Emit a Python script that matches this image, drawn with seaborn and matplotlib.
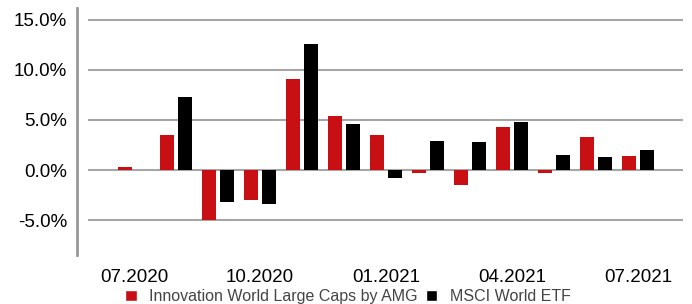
import numpy as np
import pandas as pd
import seaborn as sns
import matplotlib.pyplot as plt
from matplotlib.ticker import FuncFormatter, MultipleLocator
from matplotlib.patches import Patch

# ==================== 数据 ====================
months = ["07.2020", "08.2020", "09.2020", "10.2020", "11.2020", "12.2020", "01.2021",
          "02.2021", "03.2021", "04.2021", "05.2021", "06.2021", "07.2021"]
amg_returns = [0.3, 3.5, -5.0, -3.0, 9.1, 5.4, 3.5, -0.3, -1.5, 4.3, -0.3, 3.3, 1.4]
msci_returns = [np.nan, 7.3, -3.2, -3.4, 12.6, 4.6, -0.8, 2.9, 2.8, 4.8, 1.5, 1.3, 2.0]
series_names = ["Innovation World Large Caps by AMG", "MSCI World ETF"]
shown_ticks = ["07.2020", "10.2020", "01.2021", "04.2021", "07.2021"]

df = pd.DataFrame({
    "Month": months * 2,
    "Return": amg_returns + msci_returns,
    "Series": [series_names[0]] * len(months) + [series_names[1]] * len(months),
})

# ==================== 绘图 ====================
sns.set_style("white")
plt.rcParams['font.family'] = ['Liberation Sans', 'DejaVu Sans']

palette = {series_names[0]: "#C81014", series_names[1]: "#000000"}

fig = plt.figure(figsize=(6.92, 3.04), dpi=100)
ax = fig.add_axes([0.127, 0.161, 0.86, 0.813])

sns.barplot(data=df, x="Month", y="Return", hue="Series", palette=palette,
            width=0.84, gap=0.2, saturation=1, legend=False, linewidth=0,
            edgecolor="none", ax=ax)

ax.set_ylim(-8.5, 16.2)
ax.set_xlim(-1.1, 13.07)
ax.yaxis.set_major_locator(MultipleLocator(5))
ax.yaxis.set_major_formatter(FuncFormatter(lambda v, p: f"{v:.1f}%"))
ax.grid(axis="y", color="#a6a6a6", linewidth=1.5)
ax.set_axisbelow(True)

ax.set_xticks([months.index(m) for m in shown_ticks])
ax.set_xticklabels(shown_ticks)
ax.tick_params(axis="both", length=0, labelsize=13.5, colors="#000000")
ax.tick_params(axis="y", pad=7)
ax.tick_params(axis="x", pad=10)
ax.set_xlabel("")
ax.set_ylabel("")

for side in ["top", "right", "bottom"]:
    ax.spines[side].set_visible(False)
ax.spines["left"].set_position(("outward", 8))
ax.spines["left"].set_color("#999999")
ax.spines["left"].set_linewidth(2)

handles = [Patch(facecolor=palette[s], label=s) for s in series_names]
leg = fig.legend(handles=handles, loc="center", bbox_to_anchor=(0.503, 0.024), ncol=2,
                 frameon=False, fontsize=11.5, handlelength=0.7, handleheight=0.7,
                 handletextpad=0.8, columnspacing=0.5, borderpad=0)
for t in leg.get_texts():
    t.set_color("#444444")

fig.savefig("out.png", dpi=100)
